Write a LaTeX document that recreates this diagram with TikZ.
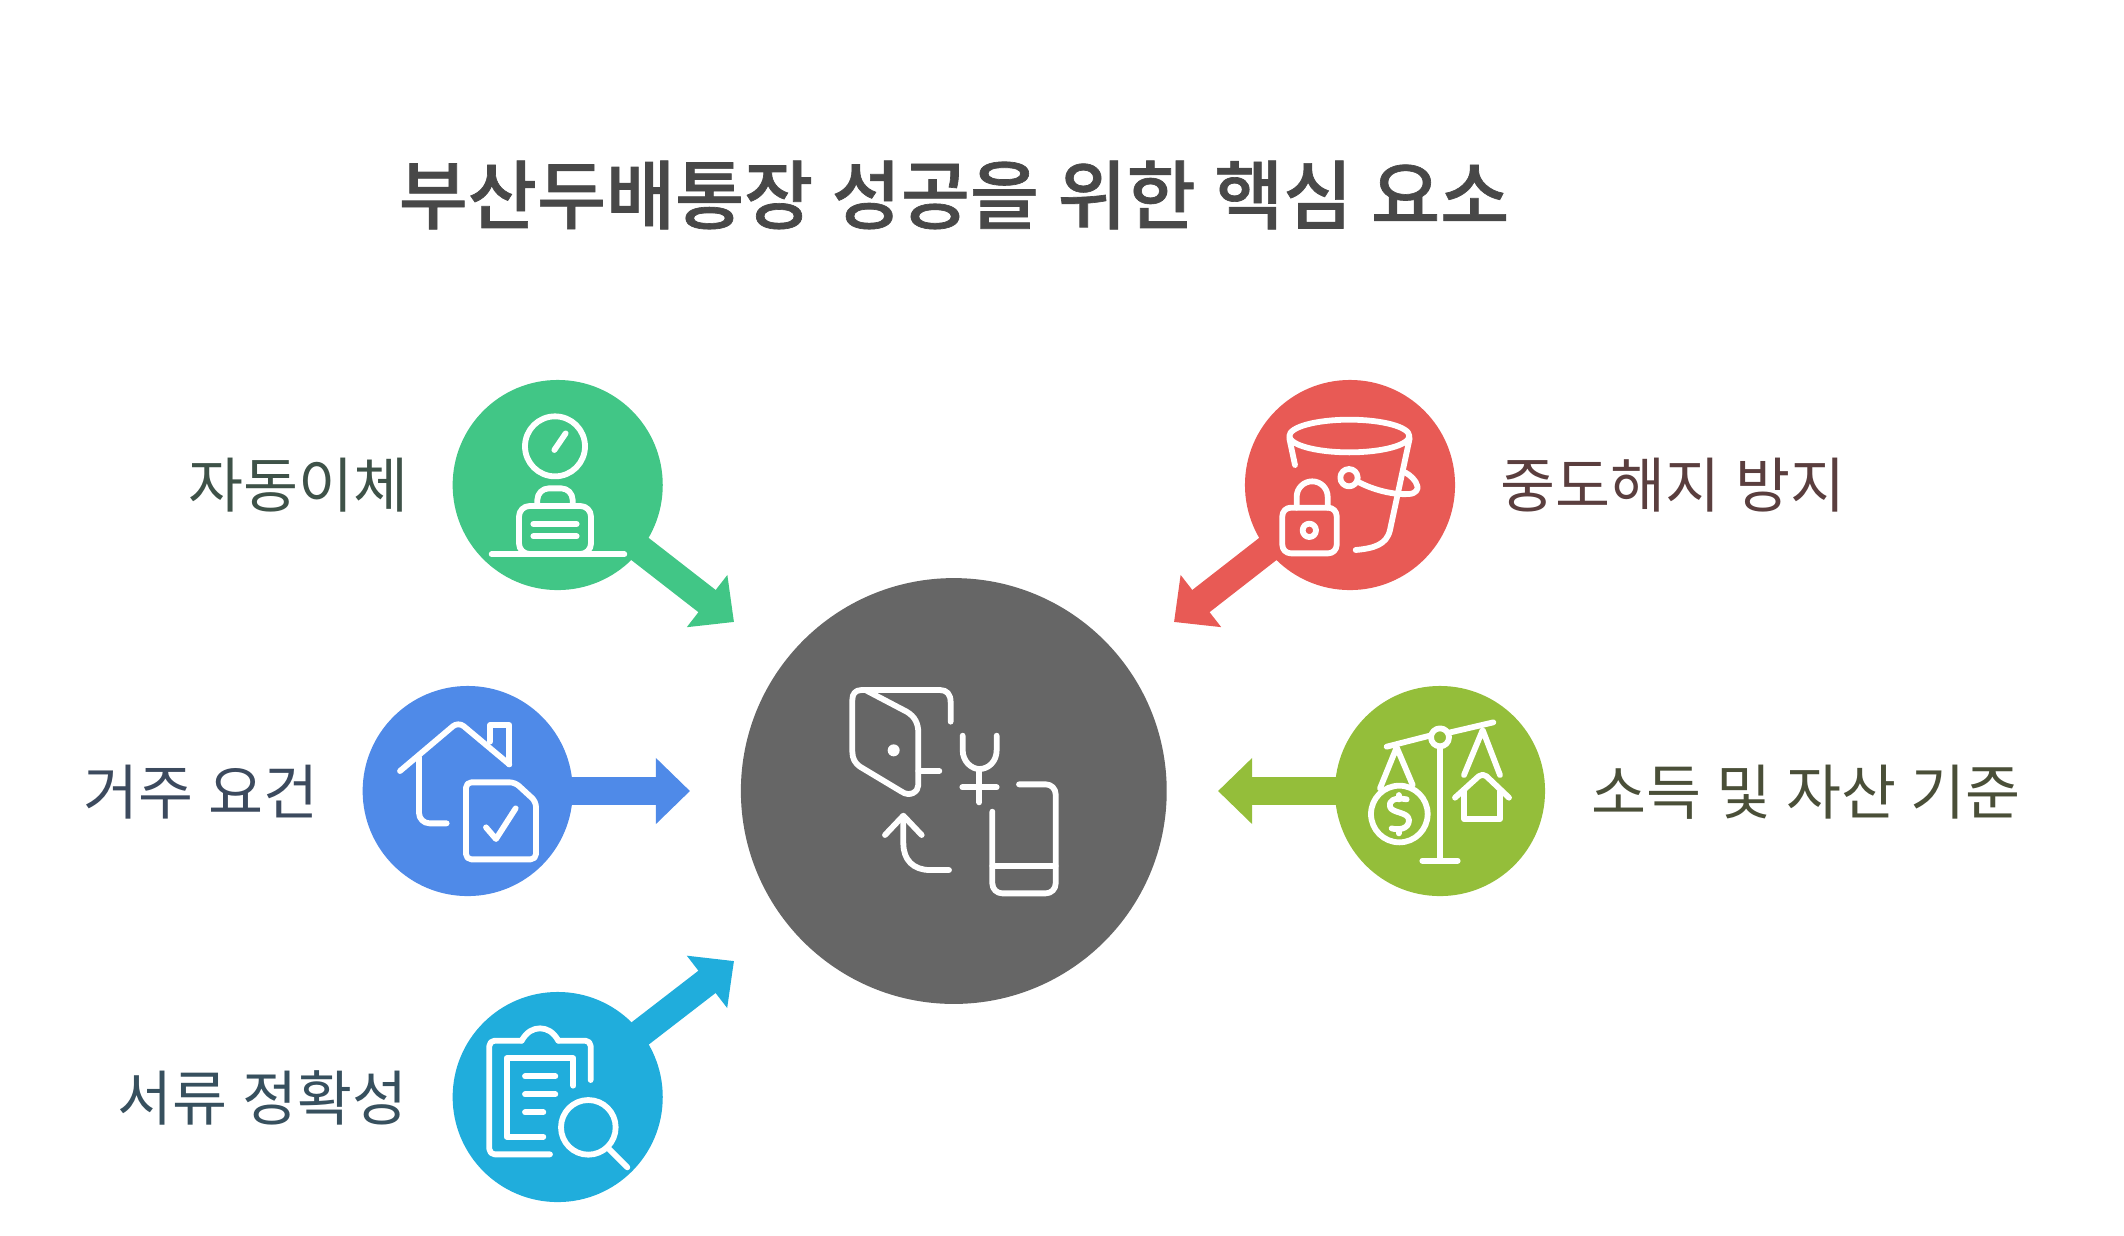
\documentclass[tikz,border=0pt]{standalone}
\usepackage{fontspec}
\usepackage{xcolor}
\usetikzlibrary{arrows.meta}
\setmainfont{Noto Sans CJK KR}[WordSpace=1.1]
\newfontfamily\titlefont{Noto Sans CJK KR Medium}[WordSpace=1.1,FakeBold=0.9]
\definecolor{autogreen}{HTML}{41C686}
\definecolor{lockred}{HTML}{E85A55}
\definecolor{homeblue}{HTML}{4F8AE8}
\definecolor{scalelime}{HTML}{94BE3A}
\definecolor{docscyan}{HTML}{20ADDC}
\definecolor{hubgray}{HTML}{666666}
\definecolor{titlegray}{HTML}{484848}
\definecolor{autoink}{HTML}{3E5248}
\definecolor{lockink}{HTML}{5A3E3E}
\definecolor{homeink}{HTML}{3C4A5E}
\definecolor{scaleink}{HTML}{4A4F38}
\definecolor{docsink}{HTML}{37505E}
\tikzset{
	disc/.style={circle,fill=#1,draw=none,inner sep=0pt,minimum size=59.75pt},
	push/.style={draw=#1,line width=8pt,shorten <=-1pt,-{Triangle[length=9.7pt,width=18.2pt]}},
	ico/.style={draw=white,line width=1.65pt,line cap=round,line join=round},
	label/.style={font=\fontsize{17pt}{20pt}\selectfont,inner sep=0pt}
}
\begin{document}
\begin{tikzpicture}[x=0.01cm,y=-0.01cm]
	\useasboundingbox (0,0) rectangle (2124,1235);
	% title
	\node[inner sep=0pt,text=titlegray] (title) at (954,195) {\fontsize{21.35pt}{26pt}\titlefont 부산두배통장 성공을 위한 핵심 요소};
	% discs
	\node[disc=hubgray,minimum size=121.1pt] (hub) at (953.8,791) {};
	\node[disc=autogreen] (auto) at (557.7,485) {};
	\node[disc=lockred] (lock) at (1350,485) {};
	\node[disc=homeblue] (home) at (467.7,791) {};
	\node[disc=scalelime] (scale) at (1440,791) {};
	\node[disc=docscyan] (docs) at (557.7,1097) {};
	% arrow ends
	\coordinate (autoend) at (734,622);
	\coordinate (lockend) at (1174,622);
	\coordinate (homeend) at (690,791);
	\coordinate (scaleend) at (1218,791);
	\coordinate (docsend) at (734,961);
	\draw[push=autogreen] (auto) -- (autoend);
	\draw[push=lockred] (lock) -- (lockend);
	\draw[push=homeblue] (home) -- (homeend);
	\draw[push=scalelime] (scale) -- (scaleend);
	\draw[push=docscyan] (docs) -- (docsend);
	% labels
	\node[label,text=autoink,anchor=east] (autotxt) at (409,485) {자동이체};
	\node[label,text=lockink,anchor=west] (locktxt) at (1500,485) {중도해지 방지};
	\node[label,text=homeink,anchor=east] (hometxt) at (319,792) {거주 요건};
	\node[label,text=scaleink,anchor=west] (scaletxt) at (1591,792) {소득 및 자산 기준};
	\node[label,text=docsink,anchor=east] (docstxt) at (408,1098) {서류 정확성};
	% green icon
	\begin{scope}[shift={(430,360)},scale=1/3,ico]
		\draw (375,259) circle (90);
		\draw (373,270) -- (407,220);
		\draw[rounded corners=3.3pt] (322,437) -- (322,385) -- (428,385) -- (428,437);
		\draw[rounded corners=3pt] (267,438) rectangle (483,582);
		\draw (310,492) -- (440,492);
		\draw (310,529) -- (440,529);
		\draw (185,583) -- (583,583);
	\end{scope}
	% red icon
	\begin{scope}[shift={(1160,360)},scale=1/3,ico]
		\draw (568,228) ellipse (180 and 49);
		\draw (388,235) -- (405,315);
		\draw (749,235) -- (690,510) .. controls (680,555) and (640,565) .. (587,570);
		\draw (567,353) circle (26);
		\draw (593,365) .. controls (640,390) and (700,405) .. (745,402) .. controls (770,402) and (775,385) .. (772,378) .. controls (768,360) and (750,345) .. (735,337);
		\draw[rounded corners=2.4pt] (367,443) rectangle (530,580);
		\draw[rounded corners=4.4pt] (410,443) -- (410,364) -- (503,364) -- (503,443);
		\draw (448,511) circle (20);
	\end{scope}
	% blue icon
	\begin{scope}[shift={(350,670)},scale=1/3,ico]
		\draw[rounded corners=2pt] (150,303) -- (325,155) -- (478,283);
		\draw (478,283) -- (478,165) -- (420,165) -- (420,215);
		\draw[rounded corners=3pt] (207,262) -- (207,460) -- (290,460);
		\draw[rounded corners=1.5pt] (348,337) -- (495,337) -- (558,395) -- (558,568) -- (348,568) -- cycle;
		\draw (408,472) -- (438,507) -- (497,415);
	\end{scope}
	% lime icon
	\begin{scope}[shift={(1210,670)},scale=1/3,ico]
		\draw (530,230) -- (663,196);
		\draw (717,188) -- (850,157);
		\draw (690,202) circle (27);
		\draw (690,235) -- (690,572);
		\draw (637,572) -- (743,572);
		\draw (510,355) -- (560,232) -- (608,345);
		\draw (568,432) circle (85);
		\draw (590,388) .. controls (550,380) and (535,395) .. (540,410) .. controls (545,430) and (595,425) .. (597,450) .. controls (597,480) and (560,480) .. (545,475);
		\draw (566,375) -- (566,388);
		\draw (566,477) -- (566,490);
		\draw (762,315) -- (818,180) -- (870,315);
		\draw[rounded corners=1.5pt] (735,383) -- (818,308) -- (897,383);
		\draw (762,365) -- (762,447) -- (870,447) -- (870,365);
	\end{scope}
	% cyan icon
	\begin{scope}[shift={(430,950)},scale=1/3,ico]
		\draw[rounded corners=1.5pt] (360,613) -- (178,613) -- (178,272) -- (275,272);
		\draw[rounded corners=1.5pt] (385,272) -- (482,272) -- (482,390);
		\draw (275,272) .. controls (290,245) and (310,235) .. (330,235) .. controls (350,235) and (370,245) .. (385,272);
		\draw (340,560) -- (230,560) -- (230,325) -- (430,325) -- (430,407);
		\draw (285,379) -- (376,379);
		\draw (285,433) -- (376,433);
		\draw (285,487) -- (340,487);
		\draw (475,532) circle (82);
		\draw (535,595) -- (592,652);
	\end{scope}
	% hub icon
	\begin{scope}[shift={(820,670)},scale=1/3,ico]
		\draw (392,155) -- (392,97) .. controls (392,72) and (380,60) .. (360,60) -- (125,60) .. controls (105,60) and (97,72) .. (97,90) -- (97,245) .. controls (97,265) and (105,280) .. (120,290) -- (245,365) .. controls (270,382) and (295,365) .. (295,345) -- (295,190) .. controls (295,160) and (285,140) .. (260,125) -- (140,62);
		\draw (295,303) -- (358,303);
		\fill[white] (221,241) circle (18);
		\draw (428,197) -- (428,240) .. controls (428,275) and (455,297) .. (478,297) .. controls (505,297) and (530,275) .. (530,240) -- (530,197);
		\draw (478,297) -- (478,397);
		\draw (427,352) -- (530,352);
		\draw[rounded corners=2.8pt] (597,343) -- (707,343) -- (707,670) -- (517,670) -- (517,425);
		\draw (517,587) -- (707,587);
		\draw (387,600) -- (330,600) .. controls (280,600) and (250,570) .. (250,520) -- (250,440);
		\draw (195,495) -- (250,437) -- (305,495);
	\end{scope}
\end{tikzpicture}
\end{document}
